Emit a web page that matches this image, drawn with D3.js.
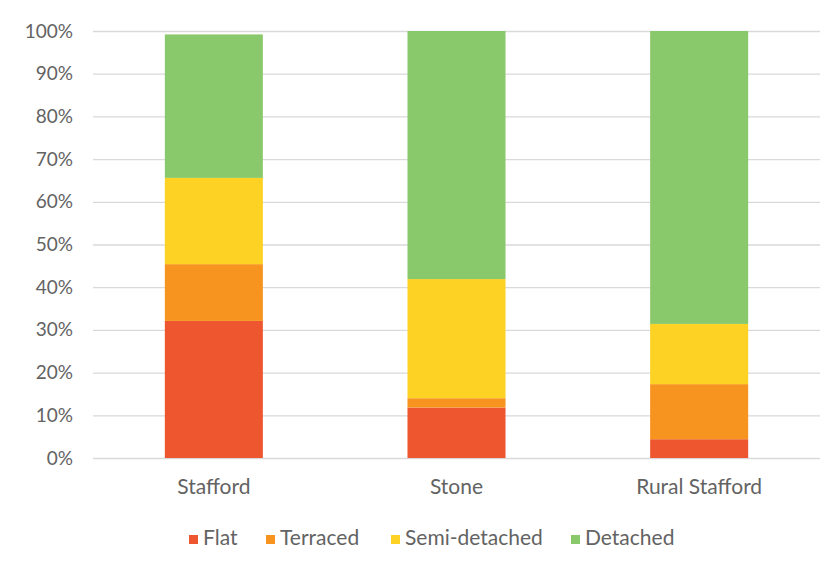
<!DOCTYPE html>
<html>
<head>
<meta charset="utf-8">
<script src="https://cdn.jsdelivr.net/npm/d3@7"></script>
<style>
  html, body { margin: 0; padding: 0; background: #fff; }
  svg { display: block; font-family: Lato, "Open Sans", sans-serif; }
</style>
</head>
<body>
<svg id="chart" width="833" height="572"></svg>
<script>
// Dwelling type mix by area (share of dwellings, %)
const areas = ["Stafford", "Stone", "Rural Stafford"];
const dwellingTypes = ["Flat", "Terraced", "Semi-detached", "Detached"];
const flat = [32.1, 11.8, 4.4];
const terraced = [13.3, 2.2, 12.9];
const semiDetached = [20.2, 27.9, 14.1];
const detached = [33.6, 58.1, 68.6];
const yTicks = [0, 10, 20, 30, 40, 50, 60, 70, 80, 90, 100];
const colours = ["#ee5630", "#f7941f", "#fed125", "#8ac96b"];

const rows = areas.map((a, i) => ({
  area: a,
  "Flat": flat[i],
  "Terraced": terraced[i],
  "Semi-detached": semiDetached[i],
  "Detached": detached[i]
}));

const svg = d3.select("#chart");
const plotLeft = 93, plotRight = 820, plotTop = 31, plotBottom = 458;
const textColour = "#636363";

const x = d3.scaleBand().domain(areas).range([plotLeft, plotRight]).paddingInner(0.596).paddingOuter(0.296);
const y = d3.scaleLinear().domain([0, 100]).range([plotBottom, plotTop]);
const colour = d3.scaleOrdinal().domain(dwellingTypes).range(colours);

// Gridlines and percentage labels
const yAxis = d3.axisLeft(y).tickValues(yTicks).tickFormat(d => d + "%")
  .tickSize(-(plotRight - plotLeft)).tickPadding(20);
const ga = svg.append("g").attr("transform", `translate(${plotLeft},0)`).call(yAxis);
ga.select(".domain").remove();
ga.selectAll(".tick line").attr("stroke", "#d9d9d9").attr("stroke-width", 1.3);
ga.selectAll(".tick text").attr("fill", textColour).style("font-size", "19px")
  .style("font-family", "Lato, 'Open Sans', sans-serif");

// Stacked bars
const stacked = d3.stack().keys(dwellingTypes)(rows);
svg.append("g").selectAll("g").data(stacked).join("g")
  .attr("fill", d => colour(d.key))
  .selectAll("rect").data(d => d).join("rect")
  .attr("x", d => x(d.data.area))
  .attr("width", x.bandwidth())
  .attr("y", d => y(d[1]))
  .attr("height", d => y(d[0]) - y(d[1]));

// Category labels
const xAxis = d3.axisBottom(x).tickSize(0).tickPadding(21);
const gx = svg.append("g").attr("transform", `translate(0,${plotBottom})`).call(xAxis);
gx.select(".domain").remove();
gx.selectAll(".tick text").attr("fill", textColour).style("font-size", "21px")
  .style("font-family", "Lato, 'Open Sans', sans-serif");

// Legend
const legendX = [189, 266, 391, 571];
const legend = svg.append("g").selectAll("g").data(dwellingTypes).join("g")
  .attr("transform", (d, i) => `translate(${legendX[i]},535)`);
legend.append("rect").attr("width", 9).attr("height", 9).attr("fill", d => colour(d));
legend.append("text").attr("x", 14).attr("y", 10)
  .attr("fill", textColour).style("font-size", "21px").text(d => d);
</script>
</body>
</html>
